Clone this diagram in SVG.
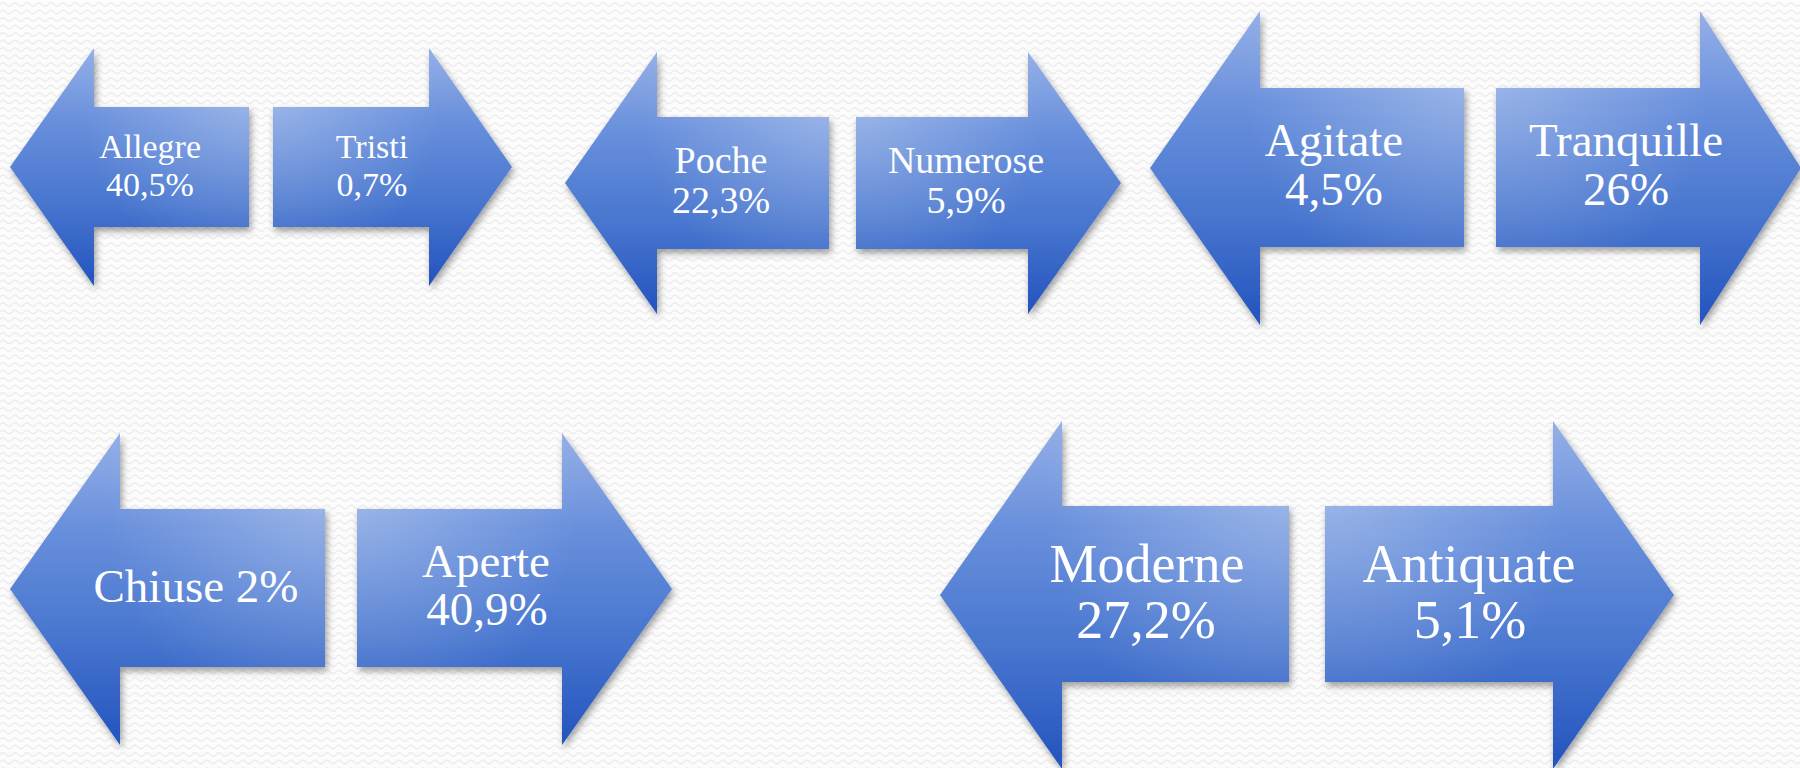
<svg xmlns="http://www.w3.org/2000/svg" width="1800" height="768" viewBox="0 0 1800 768">
<style>
.bg{fill:url(#wave)}
.al{fill:url(#gv);filter:url(#sh)}
.hl{fill:url(#hlL)}
.hr{fill:url(#hlR)}
text{font-family:"Liberation Serif","Times New Roman",serif;fill:#ffffff;text-anchor:middle}
.s1{font-size:34px}
.s2{font-size:38px}
.s3{font-size:47px}
.s4{font-size:47px}
.s5{font-size:54px}
</style>
<defs>
<pattern id="wave" width="12" height="7.5" patternUnits="userSpaceOnUse">
<rect width="12" height="7.5" fill="#fcfcfc"/>
<path d="M0 4.5 Q3 1 6 4.5 T12 4.5" fill="none" stroke="#e8e8e8" stroke-width="1.1"/>
</pattern>
<linearGradient id="gv" x1="0" y1="0" x2="0" y2="1">
<stop offset="0" stop-color="#96B0E7"/>
<stop offset="0.3" stop-color="#6990DC"/>
<stop offset="0.65" stop-color="#4876CF"/>
<stop offset="1" stop-color="#2353BE"/>
</linearGradient>
<radialGradient id="hlL" cx="1" cy="0.245" r="0.7">
<stop offset="0" stop-color="#ffffff" stop-opacity="0.28"/>
<stop offset="1" stop-color="#ffffff" stop-opacity="0"/>
</radialGradient>
<radialGradient id="hlR" cx="0" cy="0.245" r="0.7">
<stop offset="0" stop-color="#ffffff" stop-opacity="0.28"/>
<stop offset="1" stop-color="#ffffff" stop-opacity="0"/>
</radialGradient>
<filter id="sh" x="-10%" y="-10%" width="125%" height="125%">
<feDropShadow dx="2" dy="4" stdDeviation="3.5" flood-color="#000000" flood-opacity="0.38"/>
</filter>
</defs>
<rect class="bg" x="0" y="0" width="1800" height="768"/>

<g id="allegre">
<path class="al" d="M10 167 L94 48 L94 107 L249 107 L249 227 L94 227 L94 286 Z"/>
<path class="hl" d="M10 167 L94 48 L94 107 L249 107 L249 227 L94 227 L94 286 Z"/>
<text class="s1" x="150" y="158">Allegre</text>
<text class="s1" x="150" y="196">40,5%</text>
</g>
<g id="tristi">
<path class="al" d="M273 107 L429 107 L429 48 L512 167 L429 286 L429 227 L273 227 Z"/>
<path class="hr" d="M273 107 L429 107 L429 48 L512 167 L429 286 L429 227 L273 227 Z"/>
<text class="s1" x="372" y="158">Tristi</text>
<text class="s1" x="372" y="196">0,7%</text>
</g>

<g id="poche">
<path class="al" d="M565 183 L657 52 L657 117 L829 117 L829 249 L657 249 L657 314 Z"/>
<path class="hl" d="M565 183 L657 52 L657 117 L829 117 L829 249 L657 249 L657 314 Z"/>
<text class="s2" x="721" y="173">Poche</text>
<text class="s2" x="721" y="213">22,3%</text>
</g>
<g id="numerose">
<path class="al" d="M856 117 L1028 117 L1028 52 L1121 183 L1028 314 L1028 249 L856 249 Z"/>
<path class="hr" d="M856 117 L1028 117 L1028 52 L1121 183 L1028 314 L1028 249 L856 249 Z"/>
<text class="s2" x="966" y="173">Numerose</text>
<text class="s2" x="966" y="213">5,9%</text>
</g>

<g id="agitate">
<path class="al" d="M1150 168 L1260 11 L1260 88 L1464 88 L1464 247 L1260 247 L1260 325 Z"/>
<path class="hl" d="M1150 168 L1260 11 L1260 88 L1464 88 L1464 247 L1260 247 L1260 325 Z"/>
<text class="s3" x="1334" y="156">Agitate</text>
<text class="s3" x="1334" y="205">4,5%</text>
</g>
<g id="tranquille">
<path class="al" d="M1496 88 L1700 88 L1700 11 L1801 168 L1700 325 L1700 247 L1496 247 Z"/>
<path class="hr" d="M1496 88 L1700 88 L1700 11 L1801 168 L1700 325 L1700 247 L1496 247 Z"/>
<text class="s3" x="1626" y="156">Tranquille</text>
<text class="s3" x="1626" y="205">26%</text>
</g>

<g id="chiuse">
<path class="al" d="M10 589 L120 433 L120 509 L325 509 L325 667 L120 667 L120 745 Z"/>
<path class="hl" d="M10 589 L120 433 L120 509 L325 509 L325 667 L120 667 L120 745 Z"/>
<text class="s4" x="196" y="602">Chiuse 2%</text>
</g>
<g id="aperte">
<path class="al" d="M357 509 L562 509 L562 433 L672 589 L562 745 L562 667 L357 667 Z"/>
<path class="hr" d="M357 509 L562 509 L562 433 L672 589 L562 745 L562 667 L357 667 Z"/>
<text class="s4" x="486" y="577">Aperte</text>
<text class="s4" x="487" y="625">40,9%</text>
</g>

<g id="moderne">
<path class="al" d="M940 595 L1062 421 L1062 506 L1289 506 L1289 682 L1062 682 L1062 769 Z"/>
<path class="hl" d="M940 595 L1062 421 L1062 506 L1289 506 L1289 682 L1062 682 L1062 769 Z"/>
<text class="s5" x="1147" y="582">Moderne</text>
<text class="s5" x="1146" y="638">27,2%</text>
</g>
<g id="antiquate">
<path class="al" d="M1325 506 L1553 506 L1553 421 L1674 595 L1553 769 L1553 682 L1325 682 Z"/>
<path class="hr" d="M1325 506 L1553 506 L1553 421 L1674 595 L1553 769 L1553 682 L1325 682 Z"/>
<text class="s5" x="1469" y="582">Antiquate</text>
<text class="s5" x="1470" y="638">5,1%</text>
</g>

<g id="connectors"/>
</svg>
